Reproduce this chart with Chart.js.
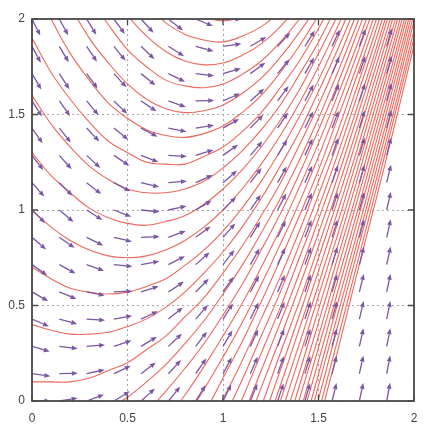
<!DOCTYPE html>
<html>
<head>
<meta charset="utf-8">
<script src="https://cdn.jsdelivr.net/npm/chart.js@4.4.0/dist/chart.umd.min.js"></script>
<style>
  html, body { margin: 0; padding: 0; background: #fff; }
  canvas { display: block; }
</style>
</head>
<body>
<canvas id="field" width="438" height="439"></canvas>
<script>
// x positions shared by all solution curves
const curveX = [0, 0.1, 0.2, 0.3, 0.4, 0.5, 0.6, 0.7, 0.8, 0.9, 1, 1.1, 1.2, 1.3, 1.4, 1.5, 1.6, 1.7, 1.8, 1.9, 2];

// index into curveX where each curve's values begin
const curveFrom = [14, 14, 14, 13, 13, 13, 13, 12, 12, 12, 11, 11, 11, 10, 10, 9, 9, 8, 7, 7, 6, 4, 2,
  0, 0, 0, 0, 0, 0, 0, 0, 0, 0, 0, 1, 2, 3, 4];

// y values of each solution curve
const curveY = [
  [-0.51, -0.12, 0.26, 0.66, 1.05, 1.45, 1.86],
  [-0.44, -0.06, 0.32, 0.71, 1.10, 1.50, 1.90],
  [-0.36, 0.01, 0.39, 0.77, 1.15, 1.54, 1.94],
  [-0.65, -0.29, 0.08, 0.45, 0.82, 1.20, 1.59, 1.99],
  [-0.57, -0.22, 0.14, 0.51, 0.87, 1.25, 1.63, 2.03],
  [-0.49, -0.14, 0.21, 0.57, 0.93, 1.30, 1.68, 2.07],
  [-0.41, -0.07, 0.28, 0.63, 0.98, 1.35, 1.72, 2.11],
  [-0.66, -0.33, 0.01, 0.34, 0.69, 1.04, 1.40, 1.77, 2.15],
  [-0.57, -0.25, 0.08, 0.41, 0.75, 1.09, 1.45, 1.81, 2.19],
  [-0.48, -0.16, 0.15, 0.48, 0.81, 1.15, 1.50, 1.86, 2.23],
  [-0.69, -0.39, -0.08, 0.23, 0.55, 0.87, 1.20, 1.55, 1.90, 2.27],
  [-0.59, -0.30, 0.00, 0.30, 0.61, 0.93, 1.26, 1.60, 1.95, 2.31],
  [-0.49, -0.21, 0.08, 0.38, 0.68, 0.99, 1.31, 1.65, 1.99, 2.35],
  [-0.66, -0.39, -0.12, 0.16, 0.45, 0.75, 1.05, 1.37, 1.70, 2.04, 2.39],
  [-0.55, -0.29, -0.03, 0.25, 0.52, 0.81, 1.11, 1.42, 1.75, 2.08, 2.43],
  [-0.68, -0.43, -0.19, 0.07, 0.33, 0.60, 0.88, 1.17, 1.48, 1.80, 2.13, 2.47],
  [-0.55, -0.32, -0.09, 0.16, 0.41, 0.67, 0.95, 1.23, 1.53, 1.84, 2.17, 2.51],
  [-0.64, -0.43, -0.21, 0.01, 0.25, 0.49, 0.75, 1.01, 1.29, 1.59, 1.89, 2.22, 2.55],
  [-0.70, -0.51, -0.31, -0.10, 0.11, 0.34, 0.57, 0.82, 1.08, 1.35, 1.64, 1.94, 2.26, 2.59],
  [-0.55, -0.37, -0.19, 0.01, 0.21, 0.43, 0.65, 0.89, 1.15, 1.41, 1.70, 1.99, 2.31, 2.63],
  [-0.56, -0.40, -0.24, -0.07, 0.12, 0.31, 0.52, 0.74, 0.97, 1.21, 1.48, 1.75, 2.04, 2.35, 2.68],
  [-0.65, -0.52, -0.39, -0.25, -0.10, 0.06, 0.23, 0.41, 0.61, 0.82, 1.04, 1.28, 1.54, 1.81, 2.09, 2.40],
  [-0.63, -0.54, -0.45, -0.34, -0.23, -0.10, 0.03, 0.18, 0.34, 0.51, 0.70, 0.90, 1.12, 1.35, 1.60, 1.86, 2.14, 2.44],
  [-0.50, -0.45, -0.39, -0.32, -0.25, -0.16, -0.06, 0.05, 0.17, 0.30, 0.45, 0.61, 0.79, 0.98, 1.19, 1.42, 1.66, 1.92, 2.19, 2.49],
  [-0.20, -0.18, -0.14, -0.10, -0.04, 0.02, 0.10, 0.19, 0.30, 0.42, 0.56, 0.71, 0.88, 1.06, 1.26, 1.48, 1.72, 1.97, 2.24, 2.53],
  [0.10, 0.10, 0.10, 0.12, 0.16, 0.20, 0.27, 0.34, 0.44, 0.54, 0.67, 0.81, 0.97, 1.14, 1.34, 1.55, 1.78, 2.03, 2.29, 2.58],
  [0.40, 0.37, 0.35, 0.35, 0.36, 0.39, 0.43, 0.49, 0.57, 0.67, 0.78, 0.91, 1.06, 1.23, 1.41, 1.62, 1.84, 2.08, 2.34, 2.62],
  [0.70, 0.64, 0.59, 0.57, 0.56, 0.57, 0.60, 0.64, 0.71, 0.79, 0.89, 1.01, 1.15, 1.31, 1.49, 1.68, 1.90, 2.14, 2.39, 2.67],
  [1.00, 0.91, 0.84, 0.79, 0.76, 0.75, 0.76, 0.79, 0.84, 0.91, 1.00, 1.11, 1.24, 1.39, 1.56, 1.75, 1.96, 2.19, 2.44],
  [1.30, 1.18, 1.09, 1.01, 0.96, 0.93, 0.92, 0.94, 0.97, 1.03, 1.11, 1.21, 1.33, 1.47, 1.63, 1.82, 2.02, 2.24, 2.49],
  [1.60, 1.45, 1.33, 1.23, 1.16, 1.11, 1.09, 1.09, 1.11, 1.15, 1.22, 1.31, 1.42, 1.55, 1.71, 1.88, 2.08, 2.30, 2.54],
  [1.90, 1.72, 1.58, 1.46, 1.36, 1.30, 1.25, 1.24, 1.24, 1.28, 1.33, 1.41, 1.51, 1.64, 1.78, 1.95, 2.14, 2.35, 2.59],
  [2.20, 2.00, 1.82, 1.68, 1.56, 1.48, 1.42, 1.39, 1.38, 1.40, 1.44, 1.51, 1.60, 1.72, 1.86, 2.02, 2.20, 2.41, 2.64],
  [2.50, 2.27, 2.07, 1.90, 1.77, 1.66, 1.58, 1.53, 1.51, 1.52, 1.55, 1.61, 1.69, 1.80, 1.93, 2.08, 2.26, 2.46, 2.69],
  [2.54, 2.31, 2.12, 1.97, 1.84, 1.75, 1.68, 1.65, 1.64, 1.66, 1.71, 1.78, 1.88, 2.00, 2.15, 2.32, 2.52],
  [2.56, 2.35, 2.17, 2.02, 1.91, 1.83, 1.78, 1.76, 1.77, 1.81, 1.87, 1.96, 2.08, 2.22, 2.38, 2.57],
  [2.57, 2.37, 2.21, 2.08, 1.98, 1.92, 1.89, 1.88, 1.91, 1.96, 2.04, 2.15, 2.29, 2.44, 2.63],
  [2.57, 2.39, 2.24, 2.13, 2.05, 2.01, 1.99, 2.01, 2.05, 2.13, 2.23, 2.35, 2.51, 2.68]
];

// grid of direction arrows (tails)
const arrowX = [0, 0.143, 0.286, 0.429, 0.571, 0.714, 0.857, 1, 1.143, 1.286, 1.429, 1.571, 1.714, 1.857];
const arrowY = [0, 0.143, 0.286, 0.429, 0.571, 0.714, 0.857, 1, 1.143, 1.286, 1.429, 1.571, 1.714, 1.857, 2];

// slope of each arrow, one row per arrowY value (bottom to top)
const arrowSlope = [
  [0.00, 0.16, 0.37, 0.61, 0.90, 1.22, 1.59, 2.00, 2.45, 2.94, 3.47, 4.04, 4.65, 5.31],
  [-0.14, 0.02, 0.22, 0.47, 0.76, 1.08, 1.45, 1.86, 2.31, 2.80, 3.33, 3.90, 4.51, 5.16],
  [-0.29, -0.12, 0.08, 0.33, 0.61, 0.94, 1.31, 1.71, 2.16, 2.65, 3.18, 3.76, 4.37, 5.02],
  [-0.43, -0.27, -0.06, 0.18, 0.47, 0.80, 1.16, 1.57, 2.02, 2.51, 3.04, 3.61, 4.22, 4.88],
  [-0.57, -0.41, -0.20, 0.04, 0.33, 0.65, 1.02, 1.43, 1.88, 2.37, 2.90, 3.47, 4.08, 4.73],
  [-0.71, -0.55, -0.35, -0.10, 0.18, 0.51, 0.88, 1.29, 1.73, 2.22, 2.76, 3.33, 3.94, 4.59],
  [-0.86, -0.69, -0.49, -0.24, 0.04, 0.37, 0.73, 1.14, 1.59, 2.08, 2.61, 3.18, 3.80, 4.45],
  [-1.00, -0.84, -0.63, -0.39, -0.10, 0.22, 0.59, 1.00, 1.45, 1.94, 2.47, 3.04, 3.65, 4.31],
  [-1.14, -0.98, -0.78, -0.53, -0.24, 0.08, 0.45, 0.86, 1.31, 1.80, 2.33, 2.90, 3.51, 4.16],
  [-1.29, -1.12, -0.92, -0.67, -0.39, -0.06, 0.31, 0.71, 1.16, 1.65, 2.18, 2.76, 3.37, 4.02],
  [-1.43, -1.27, -1.06, -0.82, -0.53, -0.20, 0.16, 0.57, 1.02, 1.51, 2.04, 2.61, 3.22, 3.88],
  [-1.57, -1.41, -1.20, -0.96, -0.67, -0.35, 0.02, 0.43, 0.88, 1.37, 1.90, 2.47, 3.08, 3.73],
  [-1.71, -1.55, -1.35, -1.10, -0.82, -0.49, -0.12, 0.29, 0.73, 1.22, 1.76, 2.33, 2.94, 3.59],
  [-1.86, -1.69, -1.49, -1.24, -0.96, -0.63, -0.27, 0.14, 0.59, 1.08, 1.61, 2.18, 2.80, 3.45],
  [-2.00, -1.84, -1.63, -1.39, -1.10, -0.78, -0.41, 0.00, 0.45, 0.94, 1.47, 2.04, 2.65, 3.31]
];

const tickValues = [0, 0.5, 1, 1.5, 2];
const arrowLength = 0.097;

const curveSets = curveY.map(function (ys, i) {
  return {
    data: ys.map(function (y, j) { return { x: curveX[curveFrom[i] + j], y: y }; }),
    borderColor: 'rgb(238,104,92)',
    borderWidth: 1.1,
    pointRadius: 0,
    tension: 0.4,
    cubicInterpolationMode: 'default',
    fill: false,
    clip: 0
  };
});

const arrowPlugin = {
  id: 'arrows',
  afterDatasetsDraw(chart) {
    const ctx = chart.ctx;
    const area = chart.chartArea;
    const sx = chart.scales.x, sy = chart.scales.y;
    ctx.save();
    ctx.beginPath();
    ctx.rect(area.left, area.top, area.right - area.left, area.bottom - area.top);
    ctx.clip();
    ctx.strokeStyle = '#7b56a5';
    ctx.fillStyle = '#7b56a5';
    ctx.lineWidth = 1.3;
    arrowSlope.forEach(function (row, r) {
      row.forEach(function (s, c) {
        const d = arrowLength / Math.sqrt(1 + s * s);
        const x0 = sx.getPixelForValue(arrowX[c]);
        const y0 = sy.getPixelForValue(arrowY[r]);
        const x1 = sx.getPixelForValue(arrowX[c] + d);
        const y1 = sy.getPixelForValue(arrowY[r] + s * d);
        const ang = Math.atan2(y1 - y0, x1 - x0);
        const hl = 6, hw = 2.4;
        const bx = x1 - hl * Math.cos(ang), by = y1 - hl * Math.sin(ang);
        ctx.beginPath();
        ctx.moveTo(x0, y0);
        ctx.lineTo(bx, by);
        ctx.stroke();
        ctx.beginPath();
        ctx.moveTo(x1, y1);
        ctx.lineTo(bx + hw * Math.sin(ang), by - hw * Math.cos(ang));
        ctx.lineTo(bx - hw * Math.sin(ang), by + hw * Math.cos(ang));
        ctx.closePath();
        ctx.fill();
      });
    });
    ctx.restore();
  }
};

// frame with inward tick marks on all four sides
const framePlugin = {
  id: 'frame',
  afterDraw(chart) {
    const ctx = chart.ctx;
    const a = chart.chartArea;
    const sx = chart.scales.x, sy = chart.scales.y;
    ctx.save();
    ctx.strokeStyle = '#4a4a4a';
    ctx.lineWidth = 1.8;
    ctx.strokeRect(a.left, a.top, a.right - a.left, a.bottom - a.top);
    ctx.lineWidth = 1.3;
    ctx.beginPath();
    tickValues.forEach(function (v) {
      const px = sx.getPixelForValue(v);
      const py = sy.getPixelForValue(v);
      ctx.moveTo(px, a.bottom); ctx.lineTo(px, a.bottom - 6);
      ctx.moveTo(px, a.top); ctx.lineTo(px, a.top + 6);
      ctx.moveTo(a.left, py); ctx.lineTo(a.left + 6, py);
      ctx.moveTo(a.right, py); ctx.lineTo(a.right - 6, py);
    });
    ctx.stroke();
    ctx.restore();
  }
};

const tickFont = { family: '"Liberation Sans", Arial, sans-serif', size: 12 };
const plainLabel = function (value) { return String(value); };

new Chart(document.getElementById('field'), {
  type: 'line',
  data: { datasets: curveSets },
  options: {
    responsive: false,
    animation: false,
    events: [],
    layout: { padding: { top: 19, right: 24, left: 0, bottom: 0 } },
    plugins: { legend: { display: false }, tooltip: { enabled: false } },
    scales: {
      x: {
        type: 'linear',
        min: 0,
        max: 2,
        afterFit: function (scale) { scale.height = 38; },
        ticks: { stepSize: 0.5, padding: 10, color: '#444', font: tickFont, maxRotation: 0, callback: plainLabel },
        grid: { color: '#a8a8a8', lineWidth: 1, drawTicks: false },
        border: { display: false, dash: [2, 3] }
      },
      y: {
        type: 'linear',
        min: 0,
        max: 2,
        afterFit: function (scale) { scale.width = 32; },
        ticks: { stepSize: 0.5, padding: 7, color: '#444', font: tickFont, callback: plainLabel },
        grid: { color: '#a8a8a8', lineWidth: 1, drawTicks: false },
        border: { display: false, dash: [2, 3] }
      }
    }
  },
  plugins: [arrowPlugin, framePlugin]
});
</script>
</body>
</html>
